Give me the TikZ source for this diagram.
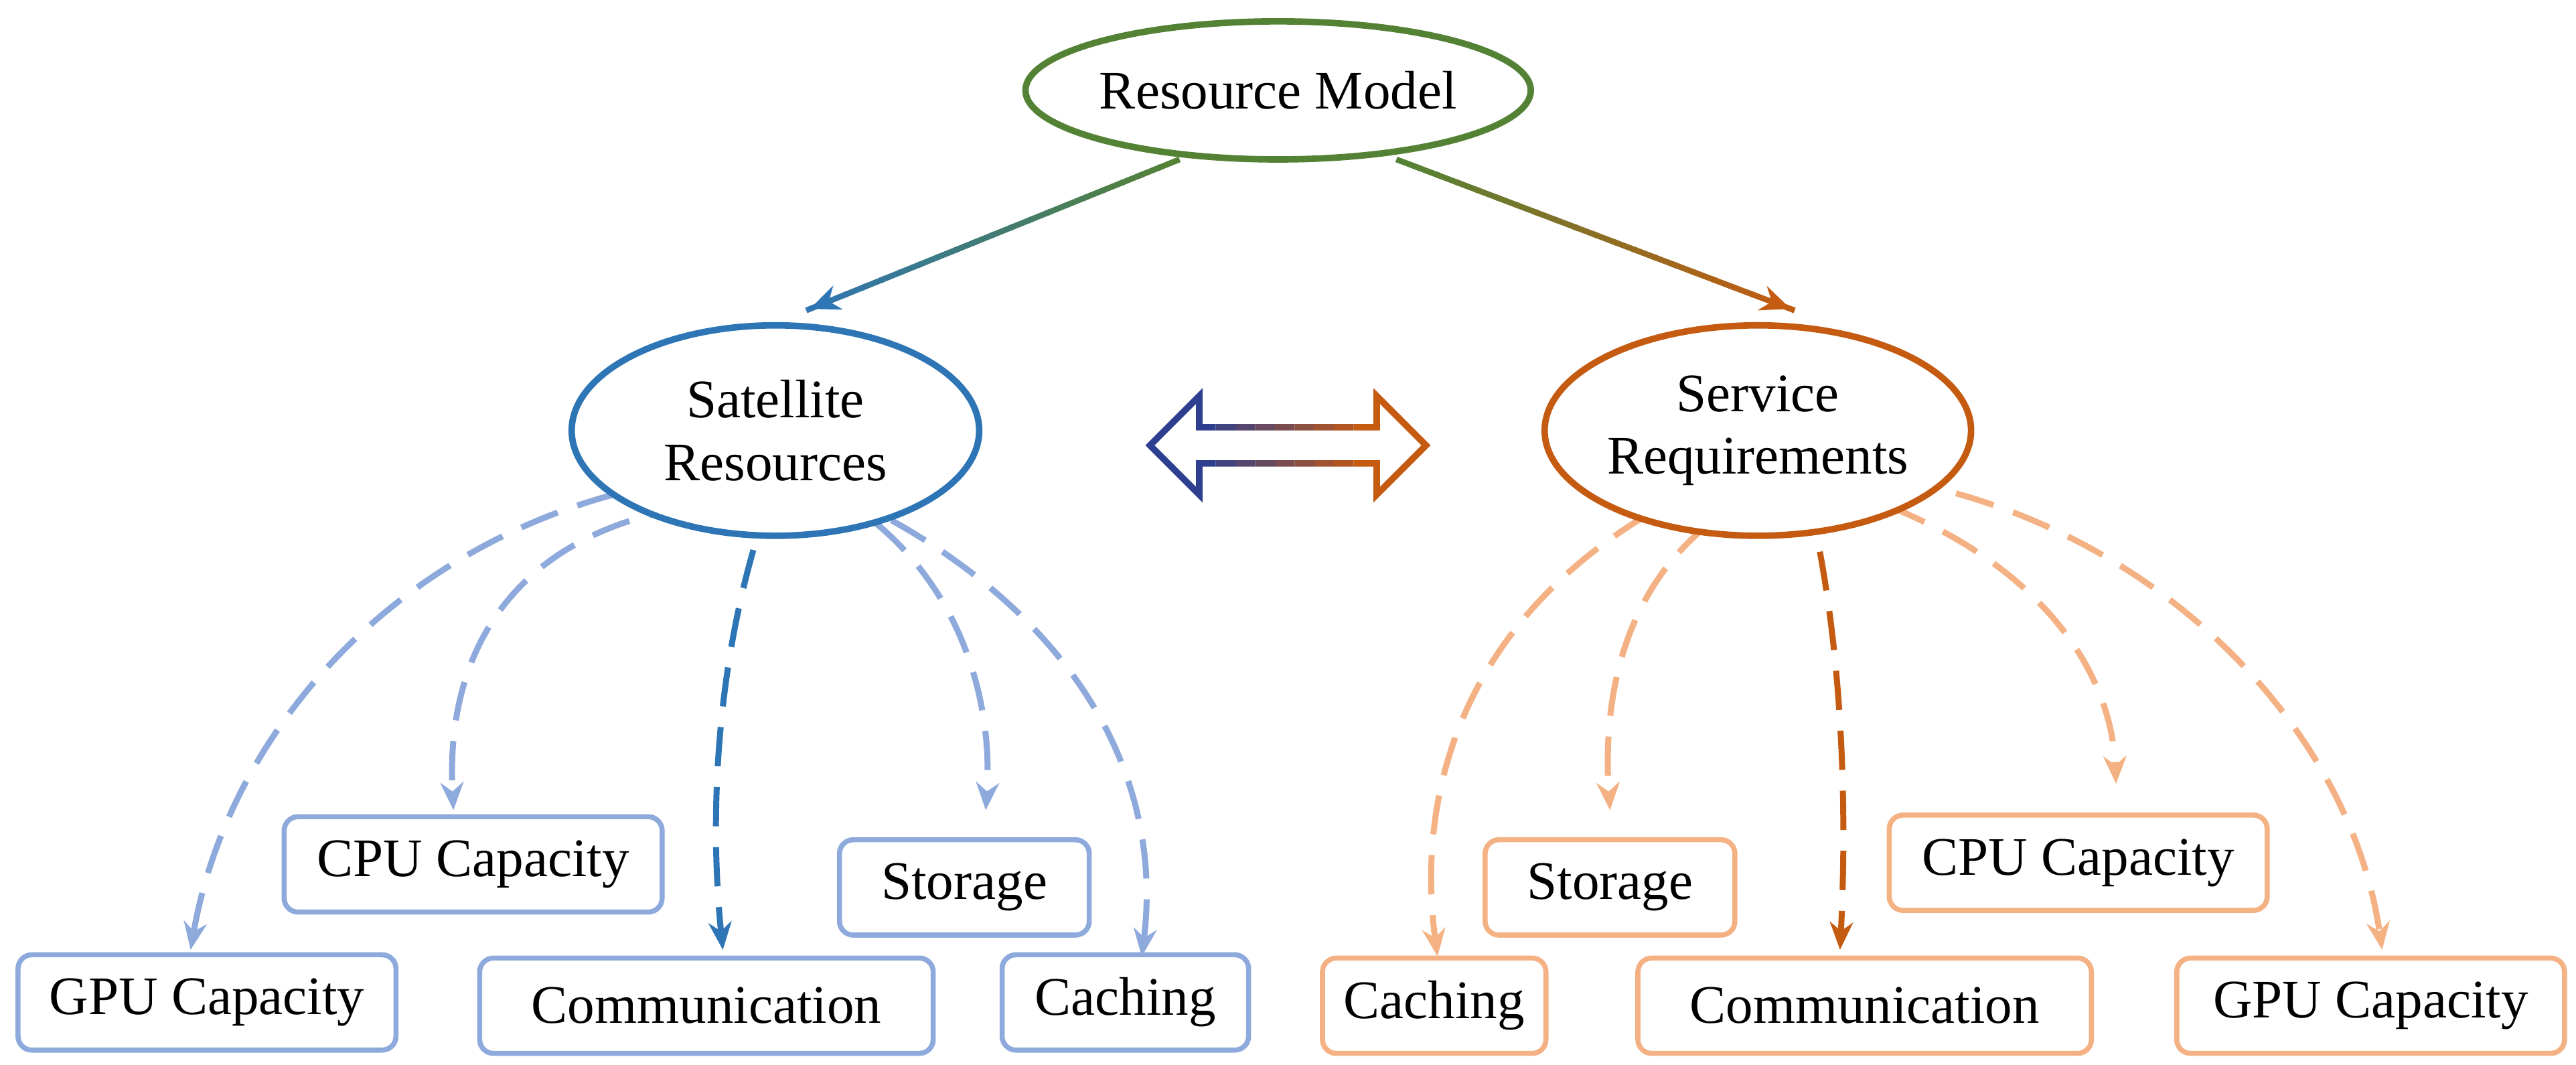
\documentclass[tikz,border=0pt]{standalone}
\usepackage{fontspec}
\setmainfont{Liberation Serif}
\usetikzlibrary{shapes.geometric,arrows.meta,calc}
\definecolor{dblue}{HTML}{2E75B6}
\definecolor{lblue}{HTML}{8EA9DB}
\definecolor{dor}{HTML}{C55A11}
\definecolor{lor}{HTML}{F4B183}
\definecolor{grn}{HTML}{548235}
\definecolor{navy}{HTML}{2F3F8F}
\begin{document}
\begin{tikzpicture}[x=0.025cm,y=-0.025cm,
  every node/.style={font=\fontsize{23.5}{27}\selectfont},
  ell/.style={ellipse,draw,line width=2.8pt,inner sep=0pt,align=center},
  box/.style={rounded corners=6pt,draw,line width=2.2pt,minimum height=1.45cm,inner xsep=0pt},
  da/.style={dashed,dash pattern=on 17pt off 9pt,line width=2.6pt,-{Stealth[length=12pt,width=10pt]}}]
\useasboundingbox (0,0) rectangle (1568,648);
% dashed curves left
\draw[da,lblue] (410,293) .. controls (250,320) and (140,440) .. (116,578);
\draw[da,lblue] (455,305) .. controls (330,310) and (270,380) .. (276,493);
\draw[da,dblue] (470,300) .. controls (440,380) and (430,480) .. (440,578);
\draw[da,lblue] (503,298) .. controls (580,340) and (605,420) .. (600,493);
\draw[da,lblue] (510,300) .. controls (640,360) and (710,460) .. (695,582);
% right
\draw[da,lor] (1035,296) .. controls (900,360) and (860,470) .. (875,582);
\draw[da,lor] (1070,300) .. controls (990,340) and (975,420) .. (980,493);
\draw[da,dor] (1100,300) .. controls (1120,380) and (1125,480) .. (1120,578);
\draw[da,lor] (1115,296) .. controls (1230,330) and (1285,400) .. (1288,477);
\draw[da,lor] (1155,292) .. controls (1310,320) and (1430,440) .. (1450,578);
\node[ell,draw=grn,fill=white,minimum width=7cm,minimum height=2.1cm] (rm) at (778,55) {Resource Model};
\node[ell,draw=dblue,fill=white,minimum width=6.2cm,minimum height=3.2cm] (sr) at (472,262) {Satellite\\Resources};
\node[ell,draw=dor,fill=white,minimum width=5.8cm,minimum height=3.2cm] (sq) at (1070,262) {Service\\Requirements};
% boxes
\node[box,draw=lblue,minimum width=5.75cm] (cpuL) at (288,526) {CPU Capacity};
\node[box,draw=lblue,minimum width=5.75cm] (gpuL) at (126,610) {GPU Capacity};
\node[box,draw=lblue,minimum width=6.9cm] (comL) at (430,612) {Communication};
\node[box,draw=lblue,minimum width=3.8cm] (stoL) at (587,540) {Storage};
\node[box,draw=lblue,minimum width=3.75cm] (cacL) at (685,610) {Caching};
\node[box,draw=lor,minimum width=3.8cm] (stoR) at (980,540) {Storage};
\node[box,draw=lor,minimum width=3.4cm] (cacR) at (873,612) {Caching};
\node[box,draw=lor,minimum width=6.9cm] (comR) at (1135,612) {Communication};
\node[box,draw=lor,minimum width=5.75cm] (cpuR) at (1265,525) {CPU Capacity};
\node[box,draw=lor,minimum width=5.9cm] (gpuR) at (1443,612) {GPU Capacity};
% gradient arrows
\coordinate (a1) at (718,97); \coordinate (a2) at (493,188);
\coordinate (b1) at (850,97); \coordinate (b2) at (1090,188);
\foreach \i in {0,...,19}{
  \pgfmathtruncatemacro\q{\i*5}
  \pgfmathsetmacro\s{\i/20}
  \pgfmathsetmacro\e{(\i+1)/20+0.01}
  \draw[line width=2.5pt,color=dblue!\q!grn] ($(a1)!\s!(a2)$) -- ($(a1)!\e!(a2)$);
  \draw[line width=2.5pt,color=dor!\q!grn] ($(b1)!\s!(b2)$) -- ($(b1)!\e!(b2)$);
}
\draw[line width=2.5pt,dblue,-{Stealth[length=13pt,width=11pt]}] ($(a1)!0.95!(a2)$) -- (a2);
\draw[line width=2.5pt,dor,-{Stealth[length=13pt,width=11pt]}] ($(b1)!0.95!(b2)$) -- (b2);
% double arrow
\begin{scope}[line width=2.8pt,line join=miter]
\def\dap{(700,271) -- (730,241) -- (730,260) -- (838,260) -- (838,241) -- (868,271) -- (838,301) -- (838,282) -- (730,282) -- (730,301) -- cycle}
\foreach \k in {0,...,8}{
  \pgfmathtruncatemacro\q{\k*12.5}
  \pgfmathsetmacro\xa{ifthenelse(\k==0,690,740+\k*12-12)}
  \pgfmathsetmacro\xb{ifthenelse(\k==8,880,740+\k*12)}
  \begin{scope}\clip (\xa,220) rectangle (\xb,320); \draw[dor!\q!navy] \dap; \end{scope}
}
\end{scope}
\end{tikzpicture}
\end{document}
